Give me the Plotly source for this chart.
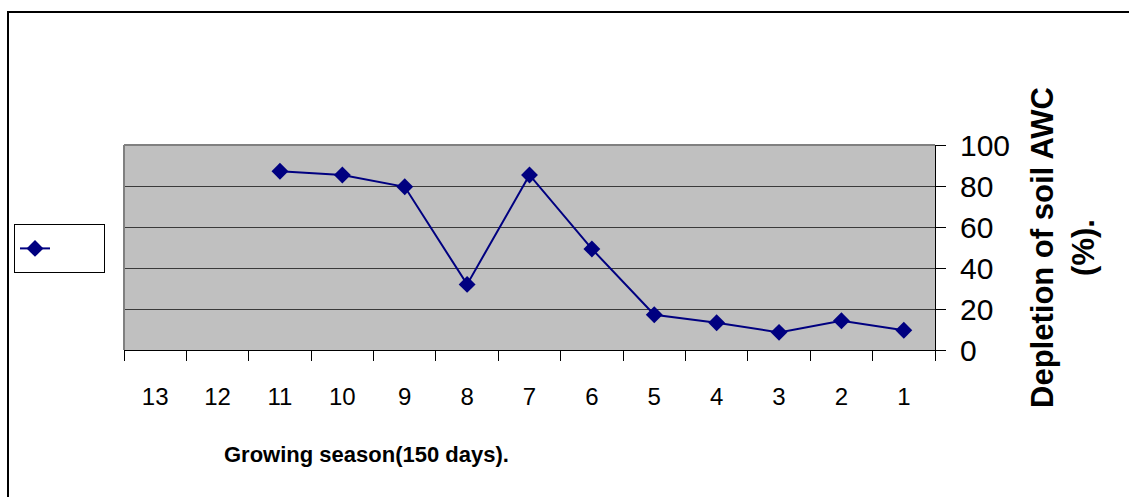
import plotly.graph_objects as go

categories = ["13", "12", "11", "10", "9", "8", "7", "6", "5", "4", "3", "2", "1"]
depletion = [None, None, 87.2, 85.4, 79.6, 32.0, 85.4, 49.3, 17.2, 13.3, 8.6, 14.3, 9.6]
y_ticks = [0, 20, 40, 60, 80, 100]

W, H = 1129, 497
L, R, T, B = 124, 935, 145, 350
pw, ph = R - L, B - T

def px(x):
    return (x - L) / pw

def py(y):
    return (B - y) / ph

fig = go.Figure()
fig.add_trace(go.Scatter(
    x=categories, y=depletion, mode="lines+markers",
    name="\u00a0" * 6,
    line=dict(color="#000080", width=2),
    marker=dict(symbol="diamond", size=13, color="#000080"),
    connectgaps=False,
))

fig.update_layout(
    width=W, height=H,
    margin=dict(l=L, r=W - R, t=T, b=H - B),
    paper_bgcolor="white",
    plot_bgcolor="#C0C0C0",
    font=dict(family="Arial, Liberation Sans, sans-serif", color="black"),
    showlegend=True,
    legend=dict(
        x=px(14), y=py(224), xanchor="left", yanchor="top",
        bordercolor="black", borderwidth=1, bgcolor="white",
        font=dict(size=26),
    ),
    xaxis=dict(
        type="category", categoryorder="array", categoryarray=categories,
        range=[-0.5, len(categories) - 0.5],
        showgrid=False, zeroline=False,
        showline=True, linecolor="black", linewidth=1,
        ticks="outside", tickson="boundaries", ticklen=10, tickcolor="black",
        tickfont=dict(size=24),
        ticklabelstandoff=25,
    ),
    yaxis=dict(
        side="right", range=[0, 100], tickvals=y_ticks,
        showgrid=True, gridcolor="#3a3a3a", gridwidth=1,
        zeroline=False,
        showline=True, linecolor="black", linewidth=1,
        ticks="outside", ticklen=10, tickcolor="black",
        tickfont=dict(size=30),
        ticklabelstandoff=8,
        title=dict(text="<b>Depletion of soil AWC<br>(%).</b>", font=dict(size=31), standoff=22),
    ),
    shapes=[
        dict(type="rect", xref="paper", yref="paper",
             x0=px(8), y0=py(12), x1=px(1140), y1=py(510),
             line=dict(color="black", width=2), fillcolor="rgba(0,0,0,0)", layer="below"),
        dict(type="line", xref="paper", yref="paper", x0=0, y0=0, x1=0, y1=1,
             line=dict(color="#808080", width=2)),
        dict(type="line", xref="paper", yref="paper", x0=0, y0=1, x1=1, y1=1,
             line=dict(color="#808080", width=2)),
    ],
    annotations=[
        dict(text="<b>Growing season(150 days).</b>", xref="paper", yref="paper",
             x=px(366), y=py(454), xanchor="center", yanchor="middle", showarrow=False,
             font=dict(size=22)),
    ],
)

fig.write_html("out.html", config={"displayModeBar": False},
               post_script="document.body.style.margin='0';")
